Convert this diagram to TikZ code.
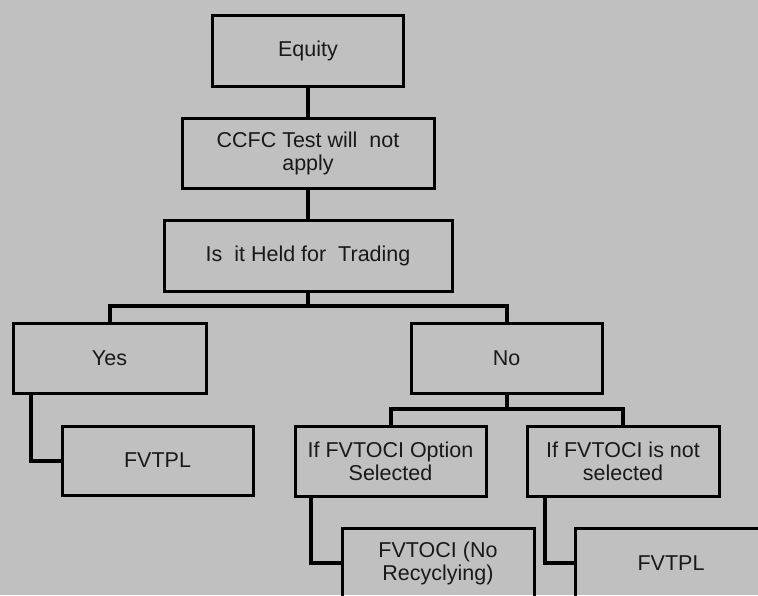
\documentclass[tikz,border=0pt]{standalone}
\usepackage{fontspec}
\setmainfont{Liberation Sans}
\definecolor{bg}{HTML}{C0C0C0}
\begin{document}
\begin{tikzpicture}[x=1pt,y=-1pt,
  box/.style={draw=black,line width=3pt,inner sep=0pt,align=center,
    font=\fontsize{21.5}{23}\selectfont,text=black!90},
  conn/.style={line width=4pt,draw=black}]
\fill[bg] (0,0) rectangle (758,595);
\useasboundingbox (0,0) rectangle (758,595);
\node[box,minimum width=191pt,minimum height=71pt] (equity) at (308,50.5) {Equity};
\node[box,minimum width=252pt,minimum height=70pt] (ccfc) at (308,153) {CCFC Test will\ \ not\\apply};
\node[box,minimum width=288pt,minimum height=71pt] (held) at (308,255.5) {Is\ \ it Held for\ \ Trading};
\node[box,minimum width=193pt,minimum height=70pt] (yes) at (109.5,358) {Yes};
\node[box,minimum width=191pt,minimum height=70pt] (no) at (506.5,358) {No};
\node[box,minimum width=191pt,minimum height=69pt] (fvtplL) at (157.5,460.5) {FVTPL};
\node[box,minimum width=191pt,minimum height=70pt] (opt) at (390.5,461) {If FVTOCI Option\\Selected};
\node[box,minimum width=192pt,minimum height=70pt] (notsel) at (623,461) {If FVTOCI is not\\selected};
\node[box,minimum width=192pt,minimum height=70pt] (fvtoci) at (438,563) {FVTOCI (No\\Recyclying)};
\node[box,minimum width=192pt,minimum height=70pt] (fvtplR) at (671,563) {FVTPL};
\draw[conn] (equity.south) -- (ccfc.north);
\draw[conn] (ccfc.south) -- (held.north);
\coordinate (hb) at (308,306);
\draw[conn] (held.south) -- (hb);
\draw[conn] (yes.north) |- (hb) -| (no.north);
\coordinate (nb) at (506.5,409);
\draw[conn] (no.south) -- (nb);
\draw[conn] (opt.north) |- (nb) -| (notsel.north);
\draw[conn] ([xshift=19pt]yes.south west) |- (fvtplL.west);
\draw[conn] ([xshift=17pt]opt.south west) |- (fvtoci.west);
\draw[conn] ([xshift=19pt]notsel.south west) |- (fvtplR.west);
\end{tikzpicture}
\end{document}
